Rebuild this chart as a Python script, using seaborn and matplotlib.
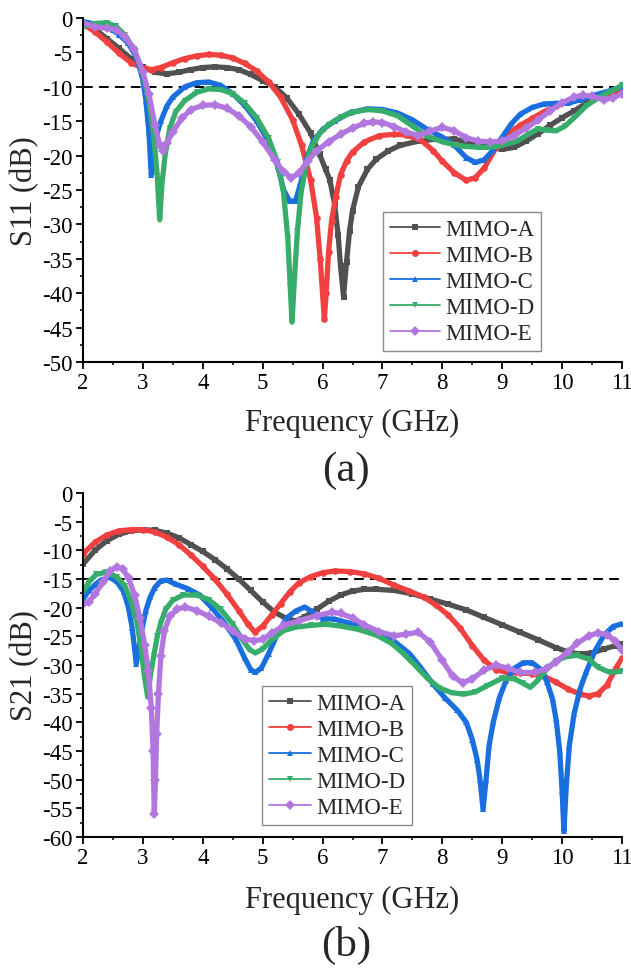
import numpy as np
import pandas as pd
import matplotlib
matplotlib.use('Agg')
import matplotlib.pyplot as plt
from matplotlib.lines import Line2D
from matplotlib.ticker import MultipleLocator
import seaborn as sns

series_names = ['MIMO-A', 'MIMO-B', 'MIMO-C', 'MIMO-D', 'MIMO-E']
series_colors = ['#515151', '#F14040', '#1A6FDF', '#37AD6B', '#B177DE']
series_markers = ['s', 'o', '^', 'v', 'D']

x_ticks = [2, 3, 4, 5, 6, 7, 8, 9, 10, 11]
x_tick_labels = ['2', '3', '4', '5', '6', '7', '8', '9', '10', '11']
s11_y_ticks = [0, -5, -10, -15, -20, -25, -30, -35, -40, -45, -50]
s11_y_tick_labels = ['0', '-5', '-10', '-15', '-20', '-25', '-30', '-35', '-40', '-45', '-50']
s21_y_ticks = [0, -5, -10, -15, -20, -25, -30, -35, -40, -45, -50, -55, -60]
s21_y_tick_labels = ['0', '-5', '-10', '-15', '-20', '-25', '-30', '-35', '-40', '-45', '-50', '-55', '-60']
s11_threshold = -10
s21_threshold = -15

# ---------------- S11 (a) ----------------
s11_a_f = [2.0, 2.2, 2.4, 2.6, 2.8, 3.0, 3.2, 3.4, 3.6, 3.8, 4.0, 4.2, 4.4, 4.6, 4.8, 5.0, 5.2, 5.4, 5.6, 5.8,
           5.95, 6.05, 6.12, 6.2, 6.26, 6.3, 6.35, 6.4, 6.45, 6.5, 6.6, 6.75, 6.9, 7.1, 7.3, 7.6, 7.9, 8.2, 8.5,
           8.8, 9.0, 9.2, 9.4, 9.6, 9.8, 10.0, 10.2, 10.4, 10.6, 10.8, 11.0]
s11_a_db = [-0.8, -1.6, -3.0, -4.4, -5.9, -7.1, -7.9, -8.1, -7.9, -7.5, -7.2, -7.1, -7.2, -7.5, -8.2, -9.1, -10.0,
            -11.6, -13.9, -16.7, -19.8, -22.0, -23.5, -27.0, -31.5, -36.0, -40.5, -35.5, -31.0, -28.0, -24.5, -22.0,
            -20.5, -19.3, -18.5, -17.9, -17.6, -17.6, -18.2, -18.8, -19.1, -18.8, -17.9, -16.8, -15.6, -14.5, -13.5,
            -12.4, -11.6, -10.8, -10.0]

s11_b_f = [2.0, 2.2, 2.4, 2.6, 2.8, 3.0, 3.15, 3.3, 3.5, 3.7, 3.9, 4.1, 4.3, 4.5, 4.7, 4.9, 5.1, 5.3, 5.5, 5.65,
           5.8, 5.9, 5.96, 6.0, 6.03, 6.06, 6.1, 6.15, 6.22, 6.3, 6.4, 6.5, 6.7, 6.95, 7.2, 7.4, 7.65, 7.85, 8.0,
           8.2, 8.4, 8.55, 8.7, 8.9, 9.1, 9.3, 9.5, 9.7, 9.9, 10.1, 10.3, 10.55, 10.8, 11.0]
s11_b_db = [-0.9, -2.0, -3.5, -5.1, -6.5, -7.3, -7.5, -7.2, -6.5, -5.9, -5.5, -5.3, -5.4, -5.8, -6.6, -7.7, -9.3,
            -11.5, -14.8, -18.5, -23.5, -29.0, -35.0, -40.0, -43.8, -40.0, -34.0, -29.5, -26.0, -22.8, -20.8, -19.5,
            -18.0, -17.1, -16.9, -17.0, -17.8, -19.3, -20.8, -22.5, -23.6, -23.2, -21.8, -18.8, -16.8, -15.6, -14.6,
            -13.6, -12.8, -12.2, -11.7, -11.3, -11.0, -10.6]

s11_c_f = [2.0, 2.2, 2.4, 2.5, 2.6, 2.75, 2.9, 3.0, 3.05, 3.1, 3.14, 3.18, 3.23, 3.3, 3.4, 3.5, 3.7, 3.9, 4.1, 4.3,
           4.5, 4.7, 4.9, 5.1, 5.25, 5.35, 5.45, 5.55, 5.65, 5.75, 5.85, 6.0, 6.2, 6.45, 6.75, 7.0, 7.25, 7.5, 7.75,
           8.0, 8.2, 8.4, 8.55, 8.7, 8.85, 9.0, 9.15, 9.3, 9.5, 9.7, 9.9, 10.1, 10.3, 10.5, 10.75, 11.0]
s11_c_db = [-0.5, -0.9, -1.3, -1.8, -2.4, -3.6, -5.8, -9.0, -12.0, -16.5, -22.8, -20.0, -17.0, -15.0, -12.8, -11.5,
            -10.0, -9.4, -9.3, -9.8, -11.0, -12.7, -15.0, -18.0, -21.5, -25.0, -26.6, -26.6, -23.5, -20.0, -17.8,
            -16.2, -15.0, -13.8, -13.2, -13.3, -13.8, -14.8, -16.2, -17.3, -18.5, -20.3, -21.0, -20.6, -19.2, -17.3,
            -15.4, -14.0, -13.0, -12.5, -12.4, -12.4, -11.9, -11.3, -10.7, -10.0]

s11_d_f = [2.0, 2.2, 2.4, 2.55, 2.7, 2.85, 3.0, 3.1, 3.18, 3.24, 3.28, 3.32, 3.37, 3.45, 3.55, 3.7, 3.9, 4.1, 4.3,
           4.5, 4.7, 4.9, 5.1, 5.25, 5.35, 5.42, 5.46, 5.49, 5.53, 5.58, 5.64, 5.72, 5.8, 5.95, 6.1, 6.3, 6.5, 6.75,
           7.0, 7.25, 7.5, 7.75, 8.0, 8.3, 8.6, 8.8, 9.0, 9.25, 9.45, 9.6, 9.75, 9.9, 10.05, 10.2, 10.4, 10.6, 10.8,
           11.0]
s11_d_db = [-1.3, -0.8, -0.7, -1.2, -2.5, -4.5, -8.0, -12.0, -17.0, -23.0, -29.3, -24.0, -20.0, -16.0, -13.6, -12.0,
            -10.8, -10.3, -10.4, -11.0, -12.4, -14.5, -17.5, -21.0, -25.5, -32.0, -39.0, -44.2, -38.0, -31.0, -25.5,
            -21.5, -19.0, -16.8, -15.5, -14.4, -13.7, -13.3, -13.5, -14.2, -15.7, -17.2, -18.0, -18.6, -18.8, -18.8,
            -18.5, -17.9, -16.8, -16.1, -16.3, -16.4, -15.7, -14.5, -12.8, -11.6, -10.7, -9.8]

s11_e_f = [2.0, 2.2, 2.4, 2.55, 2.7, 2.85, 3.0, 3.1, 3.2, 3.28, 3.33, 3.4, 3.5, 3.65, 3.8, 4.0, 4.2, 4.4, 4.6, 4.8,
           5.0, 5.2, 5.35, 5.48, 5.6, 5.75, 5.9, 6.1, 6.3, 6.5, 6.7, 6.85, 7.0, 7.2, 7.4, 7.6, 7.8, 8.0, 8.2, 8.4,
           8.6, 8.8, 9.0, 9.2, 9.4, 9.6, 9.8, 10.0, 10.2, 10.35, 10.5, 10.7, 10.85, 11.0]
s11_e_db = [-0.7, -1.3, -1.5, -1.7, -2.7, -4.5, -7.8, -11.0, -15.5, -18.5, -19.3, -18.2, -16.5, -14.6, -13.3, -12.7,
            -12.6, -13.1, -14.2, -15.8, -18.0, -20.6, -22.4, -23.2, -22.6, -20.8, -19.3, -18.0, -16.9, -16.0, -15.3,
            -15.1, -15.2, -15.8, -16.6, -17.1, -16.4, -15.9, -16.4, -17.4, -17.9, -18.0, -17.9, -17.1, -16.0, -14.8,
            -13.5, -12.3, -11.5, -11.2, -11.4, -11.9, -11.6, -11.0]

# ---------------- S21 (b) ----------------
s21_a_f = [2.0, 2.2, 2.4, 2.6, 2.8, 3.0, 3.2, 3.4, 3.6, 3.8, 4.0, 4.2, 4.4, 4.6, 4.8, 5.0, 5.2, 5.4, 5.55, 5.7,
           5.9, 6.1, 6.3, 6.5, 6.7, 6.9, 7.2, 7.5, 7.8, 8.1, 8.4, 8.7, 9.0, 9.3, 9.6, 9.9, 10.1, 10.3, 10.5, 10.7,
           10.9, 11.0]
s21_a_db = [-12.4, -10.0, -8.3, -7.2, -6.6, -6.4, -6.5, -7.0, -7.8, -9.0, -10.2, -11.6, -13.2, -15.0, -17.0, -19.0,
            -20.8, -21.9, -22.3, -21.6, -20.3, -18.9, -17.8, -17.1, -16.8, -16.8, -17.0, -17.6, -18.5, -19.4, -20.4,
            -21.7, -23.0, -24.3, -25.6, -27.0, -27.7, -28.1, -27.9, -27.2, -26.6, -26.3]

s21_b_f = [2.0, 2.2, 2.4, 2.6, 2.8, 3.0, 3.2, 3.4, 3.6, 3.8, 4.0, 4.2, 4.4, 4.6, 4.75, 4.87, 5.0, 5.15, 5.3, 5.45,
           5.6, 5.8, 6.0, 6.2, 6.45, 6.7, 6.95, 7.2, 7.45, 7.7, 7.9, 8.1, 8.3, 8.5, 8.7, 8.9, 9.1, 9.3, 9.5, 9.7,
           9.9, 10.1, 10.3, 10.45, 10.6, 10.75, 10.9, 11.0]
s21_b_db = [-10.6, -8.6, -7.3, -6.6, -6.4, -6.4, -6.8, -7.7, -9.0, -10.8, -12.8, -15.0, -17.6, -20.5, -22.8, -24.3,
            -23.2, -21.3, -19.3, -17.3, -15.7, -14.6, -13.9, -13.6, -13.7, -14.1, -14.9, -16.1, -17.1, -18.2, -19.6,
            -21.3, -23.6, -26.6, -29.2, -30.8, -31.4, -31.4, -31.5, -32.0, -33.0, -34.2, -35.1, -35.4, -35.0, -33.5,
            -30.5, -28.8]

s21_c_f = [2.0, 2.1, 2.2, 2.3, 2.44, 2.56, 2.68, 2.76, 2.82, 2.86, 2.89, 2.93, 2.98, 3.05, 3.12, 3.2, 3.3, 3.4,
           3.55, 3.75, 3.95, 4.15, 4.35, 4.55, 4.7, 4.8, 4.88, 4.98, 5.1, 5.25, 5.4, 5.55, 5.7, 5.85, 6.0, 6.2, 6.45,
           6.7, 6.95, 7.2, 7.45, 7.65, 7.85, 8.05, 8.25, 8.4, 8.5, 8.58, 8.63, 8.68, 8.73, 8.78, 8.85, 8.95, 9.06,
           9.2, 9.35, 9.5, 9.65, 9.75, 9.84, 9.9, 9.96, 10.0, 10.03, 10.07, 10.12, 10.2, 10.3, 10.4, 10.55, 10.7,
           10.85, 11.0]
s21_c_db = [-18.5, -17.0, -16.0, -15.2, -14.7, -15.4, -17.2, -20.0, -23.5, -27.0, -29.8, -27.5, -24.0, -20.5, -18.2,
            -16.5, -15.3, -15.2, -15.9, -16.7, -17.8, -20.0, -22.5, -25.5, -28.8, -30.8, -31.3, -30.5, -28.0, -24.5,
            -21.8, -20.6, -19.9, -20.8, -21.9, -22.0, -22.7, -23.6, -24.6, -25.9, -28.0, -30.6, -33.4, -35.8, -37.9,
            -40.0, -43.0, -46.5, -50.0, -55.2, -50.0, -44.1, -40.0, -35.8, -32.8, -30.6, -29.6, -29.6, -30.8, -33.0,
            -36.0, -39.5, -45.0, -52.0, -59.0, -51.0, -44.1, -38.5, -34.2, -31.3, -27.5, -24.8, -23.3, -22.8]

s21_d_f = [2.0, 2.1, 2.22, 2.39, 2.56, 2.7, 2.8, 2.9, 2.97, 3.02, 3.08, 3.13, 3.18, 3.24, 3.3, 3.38, 3.5, 3.67, 3.9,
           4.1, 4.3, 4.5, 4.65, 4.78, 4.88, 5.0, 5.15, 5.35, 5.55, 5.8, 6.05, 6.3, 6.6, 6.9, 7.15, 7.35, 7.55, 7.75,
           7.95, 8.15, 8.35, 8.55, 8.75, 9.0, 9.2, 9.35, 9.47, 9.6, 9.75, 9.9, 10.05, 10.25, 10.45, 10.6, 10.8, 11.0]
s21_d_db = [-17.3, -15.5, -14.2, -13.8, -14.6, -16.2, -18.8, -22.5, -27.0, -31.5, -35.6, -31.5, -28.5, -25.0, -22.6,
            -20.3, -18.7, -17.8, -17.8, -18.6, -20.3, -22.9, -25.4, -27.3, -27.9, -27.2, -25.6, -24.0, -23.4, -23.1,
            -22.9, -23.2, -23.8, -24.8, -26.2, -28.0, -30.1, -32.3, -34.0, -34.8, -35.1, -34.7, -33.6, -32.3, -32.4,
            -33.2, -33.9, -32.6, -30.6, -29.3, -28.6, -28.3, -29.0, -30.4, -31.3, -31.1]

s21_e_f = [2.0, 2.1, 2.2, 2.33, 2.45, 2.56, 2.66, 2.76, 2.86, 2.95, 3.03, 3.09, 3.14, 3.17, 3.19, 3.21, 3.23, 3.26,
           3.3, 3.36, 3.45, 3.57, 3.7, 3.9, 4.1, 4.3, 4.5, 4.7, 4.85, 5.0, 5.15, 5.35, 5.6, 5.9, 6.15, 6.3, 6.5, 6.7,
           6.95, 7.2, 7.4, 7.6, 7.8, 8.0, 8.17, 8.34, 8.5, 8.7, 8.9, 9.1, 9.3, 9.55, 9.75, 9.9, 10.1, 10.25, 10.45,
           10.6, 10.75, 10.88, 11.0]
s21_e_db = [-19.4, -19.0, -17.6, -15.6, -13.6, -12.9, -13.2, -14.8, -17.8, -21.8, -26.5, -31.0, -37.5, -45.0, -56.0,
            -50.0, -42.0, -35.0, -28.5, -24.0, -21.5, -20.3, -19.9, -20.5, -21.5, -22.6, -24.1, -25.4, -25.8, -25.5,
            -24.5, -23.1, -22.3, -21.4, -20.8, -21.0, -21.8, -23.0, -24.2, -24.9, -24.6, -24.3, -26.0, -29.2, -31.9,
            -33.1, -32.4, -30.9, -30.0, -30.6, -31.3, -31.3, -30.6, -29.4, -27.7, -26.2, -24.9, -24.4, -24.7, -25.8,
            -27.3]

s11_freqs = [s11_a_f, s11_b_f, s11_c_f, s11_d_f, s11_e_f]
s11_vals = [s11_a_db, s11_b_db, s11_c_db, s11_d_db, s11_e_db]
s21_freqs = [s21_a_f, s21_b_f, s21_c_f, s21_d_f, s21_e_f]
s21_vals = [s21_a_db, s21_b_db, s21_c_db, s21_d_db, s21_e_db]


def build_frame(freqs, vals):
    parts = []
    for name, f, v in zip(series_names, freqs, vals):
        parts.append(pd.DataFrame({'freq': f, 'db': v, 'series': name}))
    return pd.concat(parts, ignore_index=True)


sns.set_theme(style='ticks')
plt.rcParams['font.family'] = ['Liberation Serif', 'DejaVu Serif']
plt.rcParams['axes.unicode_minus'] = False

W, H = 631, 970
fig = plt.figure(figsize=(W / 100, H / 100), dpi=100)


def px_axes(left, top, right, bottom):
    return fig.add_axes([left / W, 1 - bottom / H, (right - left) / W, (bottom - top) / H])


ax1 = px_axes(83, 19, 622, 363)
ax2 = px_axes(83, 494, 622, 838)

palette = dict(zip(series_names, series_colors))
mk = dict(zip(series_names, series_markers))


def style_axes(ax, yticks, ylabels, ylim):
    ax.set_xlim(2, 11)
    ax.set_ylim(*ylim)
    ax.set_xticks(x_ticks)
    ax.set_xticklabels(x_tick_labels)
    ax.set_yticks(yticks)
    ax.set_yticklabels(ylabels)
    ax.xaxis.set_minor_locator(MultipleLocator(0.5))
    ax.yaxis.set_minor_locator(MultipleLocator(2.5))
    for s in ['top', 'right']:
        ax.spines[s].set_visible(False)
    for s in ['left', 'bottom']:
        ax.spines[s].set_linewidth(1.5)
        ax.spines[s].set_color('black')
    ax.tick_params(axis='both', which='major', direction='out', length=5, width=1.3,
                   labelsize=16.5, colors='black', pad=2.5)
    ax.tick_params(axis='both', which='minor', direction='out', length=2.5, width=1.1, colors='black')
    ax.set_xlabel('')
    ax.set_ylabel('')
    ax.set_facecolor('white')


def draw(ax, df, thr, legend_anchor, hlen):
    sns.lineplot(data=df, x='freq', y='db', hue='series', style='series', palette=palette,
                 markers=mk, dashes=False, estimator=None, sort=False, lw=3.8, markersize=4.8,
                 markeredgewidth=0, legend=False, ax=ax)
    ax.axhline(thr, color='black', lw=1.4, ls=(0, (5, 3.2)), zorder=1)
    handles = [Line2D([0], [0], color=c, lw=1.3, marker=m, markersize=5, markeredgewidth=0)
               for c, m in zip(series_colors, series_markers)]
    leg = ax.legend(handles, series_names, loc='upper left', bbox_to_anchor=legend_anchor,
                    borderaxespad=0, frameon=True, fancybox=False, framealpha=1,
                    edgecolor='#8a8a8a', fontsize=16.5, handlelength=hlen, handletextpad=0.2,
                    labelspacing=0.22, borderpad=0.3)
    leg.get_frame().set_linewidth(1.0)


df11 = build_frame(s11_freqs, s11_vals)
df21 = build_frame(s21_freqs, s21_vals)

draw(ax1, df11, s11_threshold, ((383 - 83) / 539, (363 - 213) / 344), 2.2)
style_axes(ax1, s11_y_ticks, s11_y_tick_labels, (-50, 0))
draw(ax2, df21, s21_threshold, ((262 - 83) / 539, (838 - 687) / 344), 1.85)
style_axes(ax2, s21_y_ticks, s21_y_tick_labels, (-60, 0))

fig.text(352 / W, 1 - 423 / H, 'Frequency (GHz)', ha='center', va='center', fontsize=22)
fig.text(352 / W, 1 - 900 / H, 'Frequency (GHz)', ha='center', va='center', fontsize=22)
fig.text(25 / W, 1 - 191 / H, 'S11 (dB)', ha='center', va='center', rotation=90, fontsize=22)
fig.text(25 / W, 1 - 666 / H, 'S21 (dB)', ha='center', va='center', rotation=90, fontsize=22)
fig.text(346 / W, 1 - 471 / H, '(a)', ha='center', va='center', fontsize=31)
fig.text(346 / W, 1 - 945 / H, '(b)', ha='center', va='center', fontsize=31)

fig.savefig('out.png', dpi=100, facecolor='white')
